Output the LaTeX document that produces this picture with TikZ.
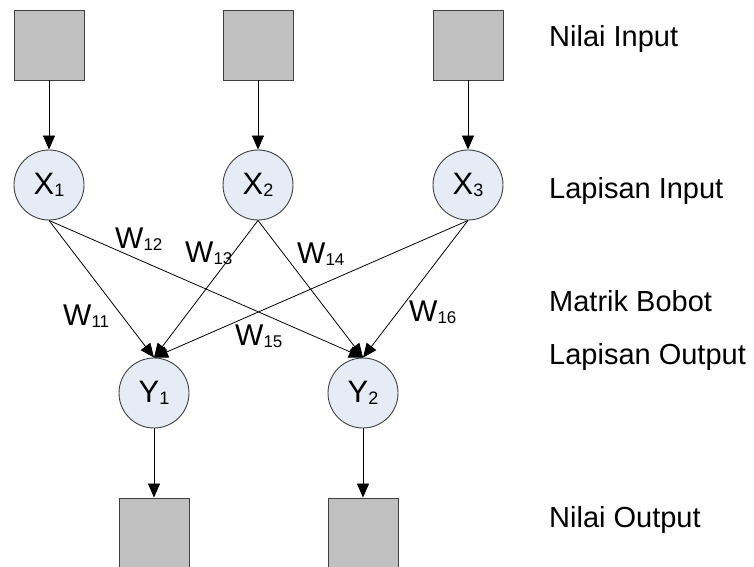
\documentclass[tikz,border=0pt]{standalone}
\usepackage{fontspec}
\setmainfont{Liberation Sans}
\usetikzlibrary{arrows.meta}
\definecolor{boxfill}{HTML}{C0C0C0}
\definecolor{boxline}{HTML}{404040}
\definecolor{nodefill}{HTML}{E6ECF6}
\newcommand{\sbs}[1]{\raisebox{-2pt}{\fontsize{17}{17}\selectfont #1}}
\newcommand{\csbs}[1]{\raisebox{-2.5pt}{\fontsize{18}{18}\selectfont #1}}
\begin{document}
\begin{tikzpicture}[x=1pt,y=-1pt,
  valbox/.style={rectangle,draw=boxline,fill=boxfill,line width=0.9pt,minimum width=70pt,minimum height=70pt,inner sep=0pt},
  neuron/.style={circle,draw=boxline,fill=nodefill,line width=0.9pt,minimum size=70pt,inner sep=0pt,font=\fontsize{31}{34}\selectfont},
  conn/.style={draw=black,line width=0.8pt,-{Triangle[length=14pt,width=12pt]}},
  wlab/.style={anchor=base west,inner sep=0pt,font=\fontsize{30}{33}\selectfont},
  rlab/.style={anchor=base west,inner sep=0pt,font=\fontsize{29}{32}\selectfont}]
\useasboundingbox (0,0) rectangle (754,566);
\begin{scope}
\clip (0,0) rectangle (754,566);
% input boxes
\node[valbox] (i1) at (49,45) {};
\node[valbox] (i2) at (258,45) {};
\node[valbox] (i3) at (468,45) {};
% input neurons
\node[neuron] (x1) at (49,185) {X\csbs{1}};
\node[neuron] (x2) at (258,185) {X\csbs{2}};
\node[neuron] (x3) at (468,185) {X\csbs{3}};
% output neurons
\node[neuron] (y1) at (154,393) {Y\csbs{1}};
\node[neuron] (y2) at (363,393) {Y\csbs{2}};
% output boxes
\node[valbox] (o1) at (154,533) {};
\node[valbox] (o2) at (363,533) {};
\end{scope}
% connectors
\draw[conn] (i1) -- (x1);
\draw[conn] (i2) -- (x2);
\draw[conn] (i3) -- (x3);
\draw[conn] (x1.south) -- (y1.north);
\draw[conn] (x1.south) -- (y2.north);
\draw[conn] (x2.south) -- (y1.north);
\draw[conn] (x2.south) -- (y2.north);
\draw[conn] (x3.south) -- (y1.north);
\draw[conn] (x3.south) -- (y2.north);
\draw[conn] (y1) -- (o1);
\draw[conn] (y2) -- (o2);
% weight labels
\node[wlab] (w11) at (63,325) {W\sbs{11}};
\node[wlab] (w12) at (115,248) {W\sbs{12}};
\node[wlab] (w13) at (185,262) {W\sbs{13}};
\node[wlab] (w14) at (297,263) {W\sbs{14}};
\node[wlab] (w15) at (235,345) {W\sbs{15}};
\node[wlab] (w16) at (409,321) {W\sbs{16}};
% right labels
\node[rlab] (l1) at (549,46) {Nilai Input};
\node[rlab] (l2) at (549,198) {Lapisan Input};
\node[rlab] (l3) at (549,311) {Matrik Bobot};
\node[rlab] (l4) at (549,364) {Lapisan Output};
\node[rlab] (l5) at (549,527) {Nilai Output};
\end{tikzpicture}
\end{document}
